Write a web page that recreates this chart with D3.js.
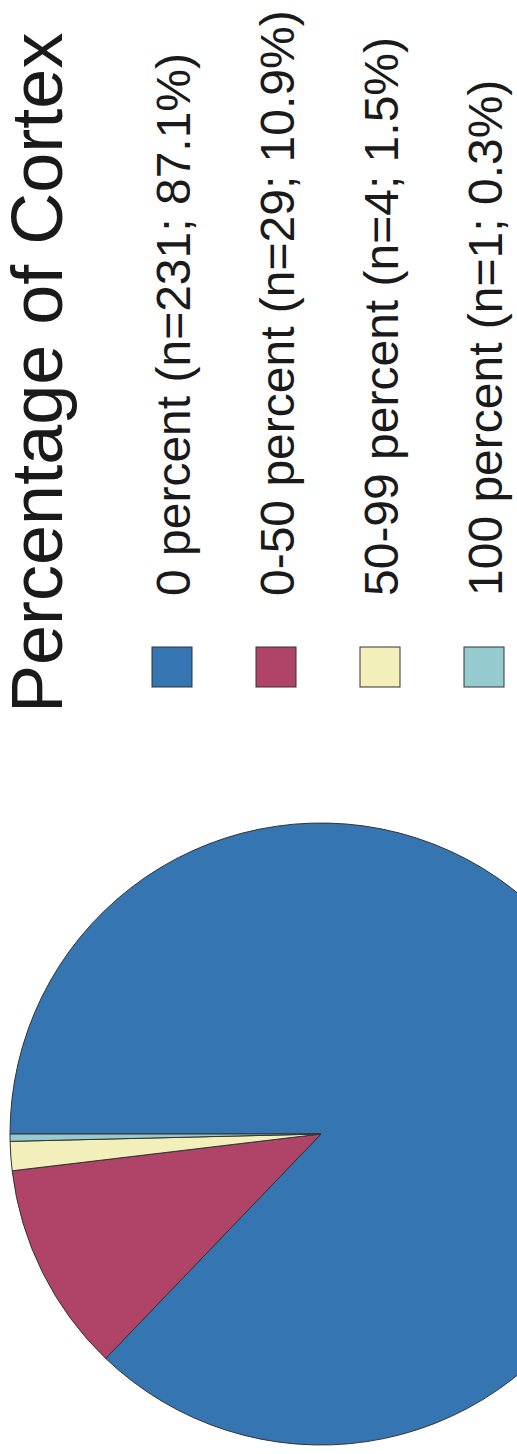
<!DOCTYPE html>
<html>
<head>
<meta charset="utf-8">
<script src="https://cdn.jsdelivr.net/npm/d3@7"></script>
<style>
  html, body { margin: 0; padding: 0; background: #fff; }
  svg { display: block; }
</style>
</head>
<body>
<script>
// Share of cortex involved, by category
const categories = ["0 percent", "0-50 percent", "50-99 percent", "100 percent"];
const counts = [231, 29, 4, 1];
const percentLabels = ["87.1%", "10.9%", "1.5%", "0.3%"];
const colors = ["#3475b2", "#b04468", "#f2efba", "#95cbcf"];
const title = "Percentage of Cortex";

const W = 517, H = 1454;

const svg = d3.select("body").append("svg")
  .attr("width", W)
  .attr("height", H);

// The whole figure is laid out landscape and turned a quarter turn
const g = svg.append("g")
  .attr("transform", `translate(0,${H}) rotate(-90)`);

const data = categories.map((c, i) => ({ cat: c, n: counts[i], pct: percentLabels[i], color: colors[i] }));

// Pie
const pie = d3.pie().value(d => d.n).sort(null);
const arc = d3.arc().innerRadius(0).outerRadius(311);

const pieG = g.append("g").attr("transform", "translate(320,321)");
pieG.selectAll("path")
  .data(pie(data))
  .join("path")
  .attr("d", arc)
  .attr("fill", d => d.data.color)
  .attr("stroke", "#333")
  .attr("stroke-width", 1)
  .attr("stroke-linejoin", "round");

// Title
g.append("text")
  .attr("x", 741)
  .attr("y", 62)
  .attr("font-family", "Liberation Sans, Arial, sans-serif")
  .attr("font-size", 72)
  .attr("fill", "#1a1a1a")
  .text(title);

// Legend
const rowY = d3.scalePoint().domain(categories).range([192, 504]);

const legend = g.append("g");
const rows = legend.selectAll("g")
  .data(data)
  .join("g")
  .attr("transform", d => `translate(0,${rowY(d.cat)})`);

rows.append("rect")
  .attr("x", 767)
  .attr("y", -40)
  .attr("width", 40)
  .attr("height", 40)
  .attr("fill", d => d.color)
  .attr("stroke", "#333")
  .attr("stroke-width", 1);

rows.append("text")
  .attr("x", 858)
  .attr("y", -2)
  .attr("font-family", "Liberation Sans, Arial, sans-serif")
  .attr("font-size", 48)
  .attr("fill", "#1a1a1a")
  .text(d => `${d.cat} (n=${d.n}; ${d.pct})`);
</script>
</body>
</html>
